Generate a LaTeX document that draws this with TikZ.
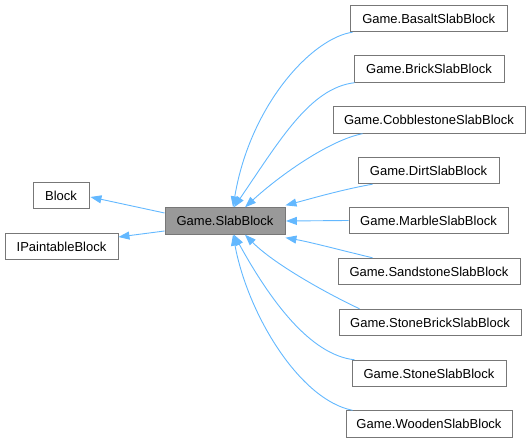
\documentclass[tikz,border=0pt]{standalone}
\usepackage{fontspec}
\setmainfont{Liberation Sans}
\usetikzlibrary{arrows.meta,calc}
\definecolor{edgeblue}{HTML}{63B8FF}
\definecolor{boxline}{HTML}{777777}
\definecolor{mainfill}{HTML}{999999}
\tikzset{
  cls/.style={draw=boxline, line width=0.9pt, fill=white, inner sep=0pt, minimum height=26.5pt, font=\fontsize{13}{15}\selectfont},
  mainbox/.style={cls, fill=mainfill},
  edge/.style={draw=edgeblue, line width=0.9pt, -{Triangle[length=11pt,width=8pt]}, fill=none},
}
\begin{document}
\begin{tikzpicture}[x=1pt,y=-1pt]
\useasboundingbox (0,0) rectangle (531,443);
% nodes
\node[mainbox, minimum width=120pt] (slab) at (225,221) {Game.SlabBlock};
\node[cls, minimum width=56pt] (block) at (61,195.5) {Block};
\node[cls, minimum width=113pt] (ipaint) at (61.5,246.5) {IPaintableBlock};
\node[cls, minimum width=156.5pt] (basalt) at (428.75,18.5) {Game.BasaltSlabBlock};
\node[cls, minimum width=150pt] (brick) at (429,69) {Game.BrickSlabBlock};
\node[cls, minimum width=192pt] (cobble) at (429,120) {Game.CobblestoneSlabBlock};
\node[cls, minimum width=141pt] (dirt) at (428.5,170.5) {Game.DirtSlabBlock};
\node[cls, minimum width=159pt] (marble) at (428.5,220.5) {Game.MarbleSlabBlock};
\node[cls, minimum width=182pt] (sand) at (429,271.5) {Game.SandstoneSlabBlock};
\node[cls, minimum width=182pt] (stonebrick) at (430,322.5) {Game.StoneBrickSlabBlock};
\node[cls, minimum width=154pt] (stone) at (429,373.5) {Game.StoneSlabBlock};
\node[cls, minimum width=166pt] (wooden) at (429,424) {Game.WoodenSlabBlock};
% edges to parents
\draw[edge] ($(slab.west)+(0,-8)$) -- ($(block.east)+(1,1.5)$);
\draw[edge] ($(slab.west)+(0,10)$) -- ($(ipaint.east)+(0,-9.5)$);
% edges from children
\draw[edge] ($(basalt.south west)+(2.5,0)$) .. controls (312,38) and (250,105) .. ($(slab.north)+(8,0)$);
\draw[edge] ($(brick.south west)+(1,0)$) .. controls (310,88) and (280,140) .. ($(slab.north)+(9,0)$);
\draw[edge] ($(cobble.south west)+(30,0)$) .. controls (330,140) and (280,175) .. ($(slab.north)+(20,0)$);
\draw[edge] ($(dirt.south west)+(15,0)$) .. controls (340,190) and (310,199) .. ($(slab.north east)+(0,-2)$);
\draw[edge] (marble.west) -- ($(slab.east)+(0.5,0)$);
\draw[edge] ($(sand.north west)+(35,0)$) .. controls (340,250) and (310,242) .. ($(slab.south east)+(0,3)$);
\draw[edge] ($(stonebrick.north west)+(21,0)$) .. controls (330,295) and (275,265) .. ($(slab.south)+(20,0)$);
\draw[edge] ($(stone.north west)+(3,0)$) .. controls (310,355) and (270,300) .. ($(slab.south)+(9,0)$);
\draw[edge] ($(wooden.north west)+(7,0)$) .. controls (300,400) and (248,315) .. ($(slab.south)+(8,0)$);
\end{tikzpicture}
\end{document}
